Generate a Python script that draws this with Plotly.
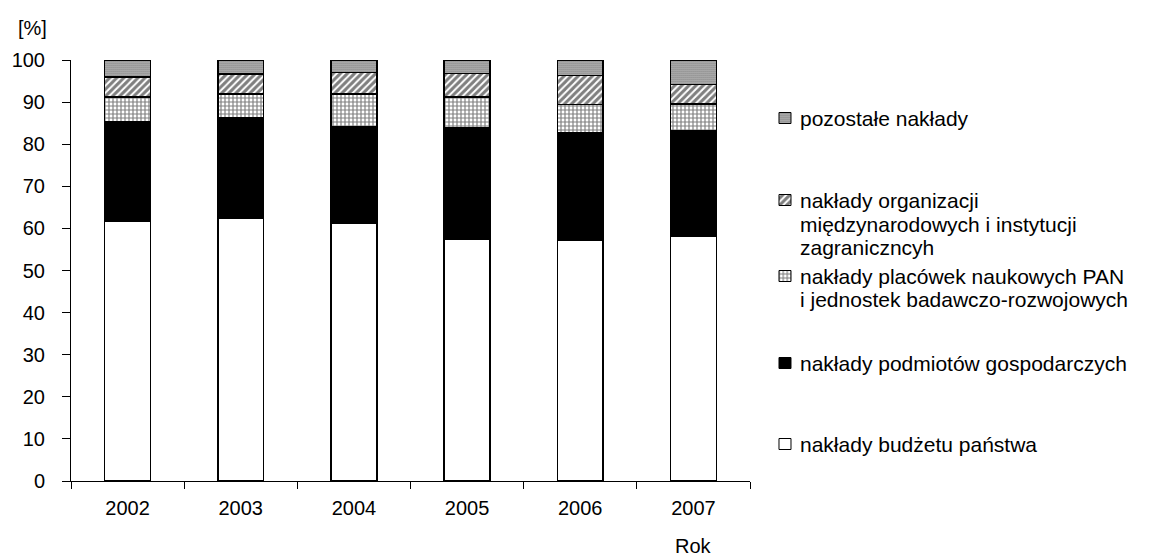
import plotly.graph_objects as go

# ---------------- data ----------------
years = ["2002", "2003", "2004", "2005", "2006", "2007"]
budzet = [61.6, 62.4, 61.3, 57.4, 57.2, 58.2]
podmioty = [23.7, 23.8, 22.9, 26.5, 25.5, 25.1]
pan_jbr = [5.9, 5.7, 7.7, 7.3, 6.7, 6.2]
miedzynar = [4.8, 4.8, 5.1, 5.6, 6.9, 4.7]
pozostale = [4.0, 3.3, 3.0, 3.2, 3.7, 5.8]

names = [
    "nakłady budżetu państwa",
    "nakłady podmiotów gospodarczych",
    "nakłady placówek naukowych PAN\ni jednostek badawczo-rozwojowych",
    "nakłady organizacji\nmiędzynarodowych i instytucji\nzagraniczncyh",
    "pozostałe nakłady",
]
series = [budzet, podmioty, pan_jbr, miedzynar, pozostale]
y_ticks = list(range(0, 101, 10))

# ---------------- styles ----------------
FONT = "Liberation Sans, Arial, sans-serif"
styles = [
    dict(color="white", pattern=None),
    dict(color="black", pattern=None),
    dict(color="white", pattern=dict(shape="+", size=4, solidity=0.5, fgcolor="black", bgcolor="white")),
    dict(color="white", pattern=dict(shape="/", size=5, solidity=0.6, fgcolor="black", bgcolor="white")),
    dict(color="#888888", pattern=dict(shape=".", size=2, solidity=0.6, fgcolor="black", bgcolor="#d8d8d8")),
]

# pixel layout of the page
W, H = 1162, 558
ML, MR, MT, MB = 71, 0, 60, 77
PW = W - ML - MR
PLOT_RIGHT = 750
x_dom_end = (PLOT_RIGHT - ML) / PW
LEG_DOM0 = 0.64
leg_px0 = ML + LEG_DOM0 * PW

# legend line centres (pixel y) per series, and swatch/text x
legend_rows = [[444], [363], [276, 299], [200, 224, 247], [118]]
SW_X0, SW_X1, TXT_X = 779, 791, 798
SW_H = 11

fig = go.Figure()
for name, vals, st in zip(names, series, styles):
    marker = dict(color=st["color"], line=dict(color="black", width=1.5))
    if st["pattern"]:
        marker["pattern"] = st["pattern"]
    fig.add_trace(go.Bar(x=years, y=vals, name=name.replace("\n", " "),
                         marker=marker, showlegend=False))

# custom legend swatches + text on an overlay pixel axis
for name, st, rows in zip(names, styles, legend_rows):
    yc = rows[0]
    kw = dict(x=[SW_X0, SW_X1, SW_X1, SW_X0, SW_X0],
              y=[yc - SW_H / 2, yc - SW_H / 2, yc + SW_H / 2, yc + SW_H / 2, yc - SW_H / 2],
              mode="lines", fill="toself", line=dict(color="black", width=1),
              xaxis="x2", yaxis="y2", showlegend=False, hoverinfo="skip")
    if st["pattern"]:
        kw["fillpattern"] = st["pattern"]
        kw["fillcolor"] = "white"
    else:
        kw["fillcolor"] = st["color"]
    fig.add_trace(go.Scatter(**kw))
    for line, yl in zip(name.split("\n"), rows):
        fig.add_annotation(x=TXT_X, y=yl, xref="x2", yref="y2", text=line,
                           showarrow=False, xanchor="left", yanchor="middle",
                           font=dict(family=FONT, size=21, color="black"))

fig.add_annotation(x=-0.035, y=1.0, xref="paper", yref="paper", yshift=32,
                   text="[%]", showarrow=False, xanchor="center", yanchor="middle",
                   font=dict(family=FONT, size=20, color="black"))
fig.add_annotation(x=len(years) - 1, y=0, xref="x", yref="paper", yshift=-65,
                   text="Rok", showarrow=False, xanchor="center", yanchor="middle",
                   font=dict(family=FONT, size=20, color="black"))

fig.update_layout(
    width=W, height=H,
    margin=dict(l=ML, r=MR, t=MT, b=MB),
    paper_bgcolor="white", plot_bgcolor="white",
    barmode="stack", bargap=0.594,
    font=dict(family=FONT, size=20, color="black"),
    showlegend=False,
    xaxis=dict(domain=[0, x_dom_end], type="category", range=[-0.5, len(years) - 0.5],
               showline=True, linecolor="black",
               linewidth=1, ticks="outside", ticklen=7, tickcolor="black",
               tickson="boundaries", showgrid=False, ticklabelstandoff=9,
               tickfont=dict(family=FONT, size=20)),
    yaxis=dict(range=[0, 100], tickvals=y_ticks, showline=True, linecolor="black",
               linewidth=1, ticks="outside", ticklen=8, tickcolor="black",
               showgrid=False, zeroline=False, ticklabelstandoff=13,
               tickfont=dict(family=FONT, size=20)),
    xaxis2=dict(domain=[LEG_DOM0, 1], range=[leg_px0, W], visible=False, anchor="y2"),
    yaxis2=dict(domain=[0, 1], range=[H - MB, MT], visible=False, anchor="x2"),
)

fig.write_html("out.html")
